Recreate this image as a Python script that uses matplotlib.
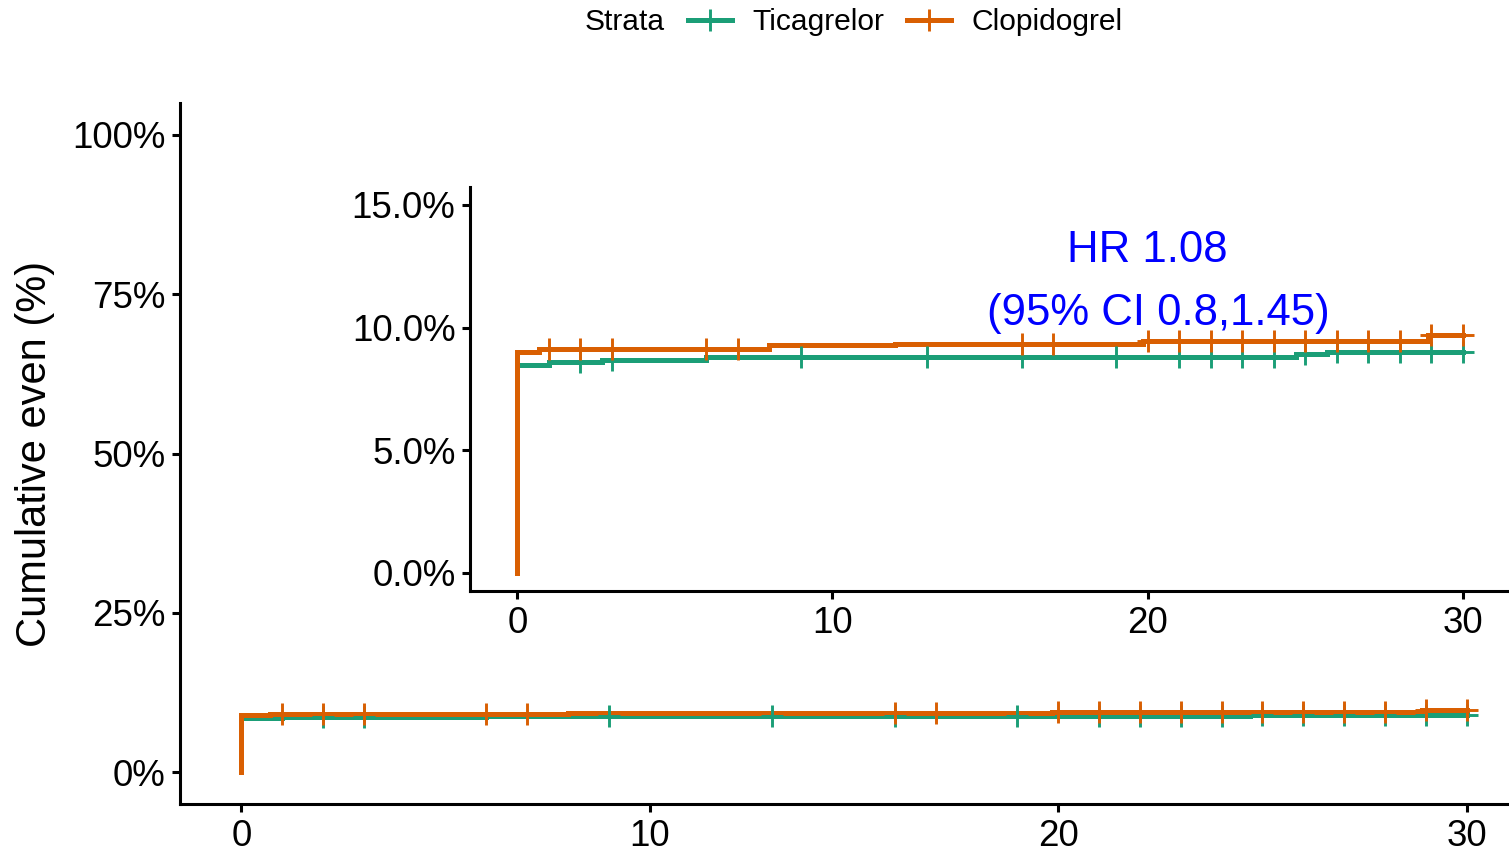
"""Cumulative event curves with a zoomed inset"""
import numpy as np
import matplotlib
matplotlib.use("Agg")
import matplotlib.pyplot as plt
from matplotlib.lines import Line2D

plt.rcParams["font.family"] = ["Liberation Sans", "DejaVu Sans"]

# step curves (days, cumulative event %)
tica_time = [0, 0, 1.0, 2.7, 6.0, 24.7, 25.7, 30]
tica_cum = [0, 8.48, 8.61, 8.68, 8.79, 8.93, 9.02, 9.02]
clop_time = [0, 0, 0.7, 8.0, 12.0, 19.85, 28.9, 30]
clop_cum = [0, 9.00, 9.12, 9.28, 9.34, 9.43, 9.70, 9.70]

# censoring times
tica_cens = [2, 3, 9, 13, 16, 19, 21, 22, 23, 24, 25, 26, 27, 28, 29, 30]
clop_cens = [1, 2, 3, 6, 7, 16, 17, 20, 21, 22, 23, 24, 25, 26, 27, 28, 29, 30]

group_names = ["Ticagrelor", "Clopidogrel"]
group_colors = ["#1B9E77", "#D95F02"]

main_yticks = [0, 25, 50, 75, 100]
inset_yticks = [0, 5, 10, 15]
xticks = [0, 10, 20, 30]

hr_line1 = "HR 1.08"
hr_line2 = "(95% CI 0.8,1.45)"

TICK_FS = 26.5
LW = 3.6


def step_value(times, values, t):
    """Value of a right-continuous step curve at t"""
    idx = np.searchsorted(np.asarray(times), t, side="right") - 1
    return np.asarray(values)[idx]


def draw_curves(ax):
    data = [(tica_time, tica_cum, tica_cens), (clop_time, clop_cum, clop_cens)]
    for (times, cums, cens), color in zip(data, group_colors):
        ax.step(times, cums, where="post", color=color, lw=LW,
                solid_joinstyle="miter", zorder=3)
        cens_y = [step_value(times, cums, t) for t in cens]
        ax.plot(cens, cens_y, ls="none", marker="+", ms=16, mew=2.1,
                color=color, zorder=4)


def style_axis(ax, yticks, fmt):
    for side in ["top", "right"]:
        ax.spines[side].set_visible(False)
    for side in ["left", "bottom"]:
        ax.spines[side].set_linewidth(2.2)
    ax.tick_params(axis="both", length=5.5, width=2.2, labelsize=TICK_FS,
                   colors="black")
    ax.tick_params(axis="x", pad=5)
    ax.tick_params(axis="y", pad=5)
    ax.set_xlim(-1.5, 31.5)
    ax.set_xticks(xticks)
    ax.set_yticks(yticks)
    ax.set_yticklabels([fmt.format(v) for v in yticks])


fig = plt.figure(figsize=(15.09, 8.52), dpi=100)

# main panel
ax = fig.add_axes([180 / 1509, 48 / 852, 1348 / 1509, 701 / 852])
draw_curves(ax)
style_axis(ax, main_yticks, "{:d}%")
ax.set_ylim(-5, 105)
ax.set_ylabel("Cumulative even (%)", fontsize=30, labelpad=12)

# inset panel
axin = fig.add_axes([470 / 1509, 261 / 852, 1040 / 1509, 404.4 / 852])
draw_curves(axin)
style_axis(axin, inset_yticks, "{:.1f}%")
axin.set_ylim(-0.75, 15.75)
axin.patch.set_alpha(0)
axin.text(20.0, 12.69, hr_line1, color="blue", fontsize=31.5,
          ha="center", va="baseline")
axin.text(20.35, 10.11, hr_line2, color="blue", fontsize=31.5,
          ha="center", va="baseline")

# legend on top
handles = [
    Line2D([], [], color=c, lw=LW, marker="+", ms=16, mew=2.1)
    for c in group_colors
]
fig.legend(handles, group_names, loc="center", ncol=2, frameon=False,
           bbox_to_anchor=(905.5 / 1509, 1 - 22 / 852), fontsize=21.6,
           handlelength=1.45, handletextpad=0.7, columnspacing=0.75)
fig.text(585 / 1509, 1 - 22 / 852, "Strata", fontsize=21.6,
         ha="left", va="center")

fig.savefig("out.png", dpi=100)
